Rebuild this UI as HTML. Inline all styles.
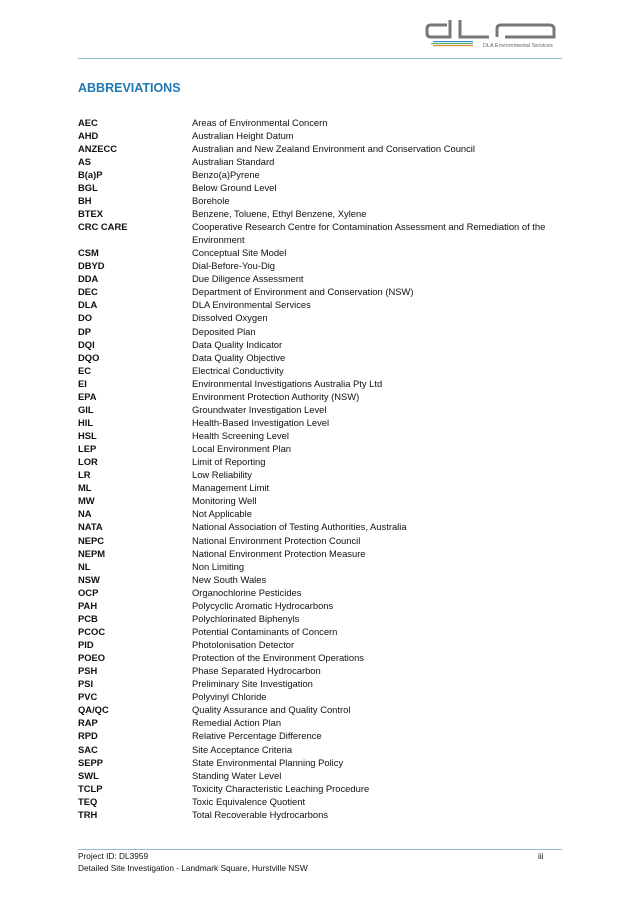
<!DOCTYPE html>
<html><head><meta charset="utf-8"><style>
body{margin:0;width:637px;height:901px;background:#fff;position:relative;font-family:"Liberation Sans",sans-serif;color:#111;overflow:hidden}
.hl{position:absolute;left:78px;width:484px;height:1px;background:#8fbfd4}
h1{position:absolute;left:78px;top:81px;margin:0;font-size:12.5px;color:#1f78b4;font-weight:bold;letter-spacing:0}
table{position:absolute;left:78px;top:115.5px;border-collapse:collapse;font-size:9.4px}
td{padding:0;height:13.06px;line-height:13.06px;vertical-align:top}
td.a{width:114px;font-weight:bold}
.f{position:absolute;left:78px;font-size:8.3px;color:#111}
</style></head><body>
<svg style="position:absolute;left:425px;top:20px" width="135" height="32" viewBox="0 0 135 32">
<path d="M25 0 V17 H6 Q2 17 2 13 V9 Q2 5 6 5 H22" stroke="#777" stroke-width="3" fill="none"/>
<path d="M35 0 V17 H64" stroke="#777" stroke-width="3" fill="none"/>
<path d="M72 17 V9 Q72 5 76 5 H124 Q129 5 129 9 V17 H80" stroke="#777" stroke-width="3" fill="none"/>
<rect x="8" y="21" width="40" height="1.2" fill="#3a8fd0"/><rect x="6" y="23" width="42" height="1.2" fill="#5cb85c"/><rect x="8" y="25" width="40" height="1.2" fill="#e88a3a"/>
<text x="58" y="27" font-size="5.5" fill="#666" font-family="Liberation Sans">DLA Environmental Services</text>
</svg>
<div class="hl" style="top:58px;left:78px"></div>
<h1>ABBREVIATIONS</h1>
<table>
<tr><td class="a">AEC</td><td>Areas of Environmental Concern</td></tr>
<tr><td class="a">AHD</td><td>Australian Height Datum</td></tr>
<tr><td class="a">ANZECC</td><td>Australian and New Zealand Environment and Conservation Council</td></tr>
<tr><td class="a">AS</td><td>Australian Standard</td></tr>
<tr><td class="a">B(a)P</td><td>Benzo(a)Pyrene</td></tr>
<tr><td class="a">BGL</td><td>Below Ground Level</td></tr>
<tr><td class="a">BH</td><td>Borehole</td></tr>
<tr><td class="a">BTEX</td><td>Benzene, Toluene, Ethyl Benzene, Xylene</td></tr>
<tr><td class="a">CRC CARE</td><td style="white-space:nowrap">Cooperative Research Centre for Contamination Assessment and Remediation of the<br>Environment</td></tr>
<tr><td class="a">CSM</td><td>Conceptual Site Model</td></tr>
<tr><td class="a">DBYD</td><td>Dial-Before-You-Dig</td></tr>
<tr><td class="a">DDA</td><td>Due Diligence Assessment</td></tr>
<tr><td class="a">DEC</td><td>Department of Environment and Conservation (NSW)</td></tr>
<tr><td class="a">DLA</td><td>DLA Environmental Services</td></tr>
<tr><td class="a">DO</td><td>Dissolved Oxygen</td></tr>
<tr><td class="a">DP</td><td>Deposited Plan</td></tr>
<tr><td class="a">DQI</td><td>Data Quality Indicator</td></tr>
<tr><td class="a">DQO</td><td>Data Quality Objective</td></tr>
<tr><td class="a">EC</td><td>Electrical Conductivity</td></tr>
<tr><td class="a">EI</td><td>Environmental Investigations Australia Pty Ltd</td></tr>
<tr><td class="a">EPA</td><td>Environment Protection Authority (NSW)</td></tr>
<tr><td class="a">GIL</td><td>Groundwater Investigation Level</td></tr>
<tr><td class="a">HIL</td><td>Health-Based Investigation Level</td></tr>
<tr><td class="a">HSL</td><td>Health Screening Level</td></tr>
<tr><td class="a">LEP</td><td>Local Environment Plan</td></tr>
<tr><td class="a">LOR</td><td>Limit of Reporting</td></tr>
<tr><td class="a">LR</td><td>Low Reliability</td></tr>
<tr><td class="a">ML</td><td>Management Limit</td></tr>
<tr><td class="a">MW</td><td>Monitoring Well</td></tr>
<tr><td class="a">NA</td><td>Not Applicable</td></tr>
<tr><td class="a">NATA</td><td>National Association of Testing Authorities, Australia</td></tr>
<tr><td class="a">NEPC</td><td>National Environment Protection Council</td></tr>
<tr><td class="a">NEPM</td><td>National Environment Protection Measure</td></tr>
<tr><td class="a">NL</td><td>Non Limiting</td></tr>
<tr><td class="a">NSW</td><td>New South Wales</td></tr>
<tr><td class="a">OCP</td><td>Organochlorine Pesticides</td></tr>
<tr><td class="a">PAH</td><td>Polycyclic Aromatic Hydrocarbons</td></tr>
<tr><td class="a">PCB</td><td>Polychlorinated Biphenyls</td></tr>
<tr><td class="a">PCOC</td><td>Potential Contaminants of Concern</td></tr>
<tr><td class="a">PID</td><td>Photolonisation Detector</td></tr>
<tr><td class="a">POEO</td><td>Protection of the Environment Operations</td></tr>
<tr><td class="a">PSH</td><td>Phase Separated Hydrocarbon</td></tr>
<tr><td class="a">PSI</td><td>Preliminary Site Investigation</td></tr>
<tr><td class="a">PVC</td><td>Polyvinyl Chloride</td></tr>
<tr><td class="a">QA/QC</td><td>Quality Assurance and Quality Control</td></tr>
<tr><td class="a">RAP</td><td>Remedial Action Plan</td></tr>
<tr><td class="a">RPD</td><td>Relative Percentage Difference</td></tr>
<tr><td class="a">SAC</td><td>Site Acceptance Criteria</td></tr>
<tr><td class="a">SEPP</td><td>State Environmental Planning Policy</td></tr>
<tr><td class="a">SWL</td><td>Standing Water Level</td></tr>
<tr><td class="a">TCLP</td><td>Toxicity Characteristic Leaching Procedure</td></tr>
<tr><td class="a">TEQ</td><td>Toxic Equivalence Quotient</td></tr>
<tr><td class="a">TRH</td><td>Total Recoverable Hydrocarbons</td></tr>
</table>
<div class="hl" style="top:849px"></div>
<div class="f" style="top:851px">Project ID: DL3959</div>
<div class="f" style="top:851px;left:538px">iii</div>
<div class="f" style="top:863px">Detailed Site Investigation - Landmark Square, Hurstville NSW</div>
</body></html>
